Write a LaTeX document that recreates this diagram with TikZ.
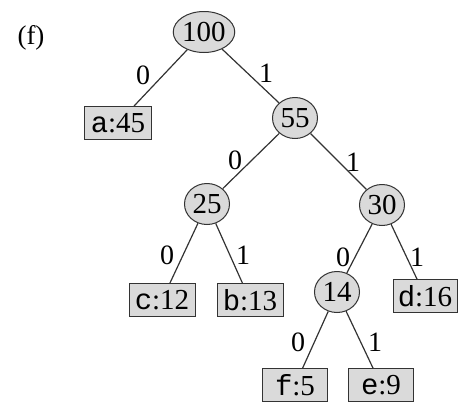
\documentclass[tikz,border=0pt]{standalone}
\usepackage{fontspec}
\setmainfont{Liberation Serif}
\setmonofont{Liberation Mono}
\usetikzlibrary{shapes.geometric}
\definecolor{nodefill}{HTML}{DADADA}
\definecolor{linecol}{HTML}{333333}
\begin{document}
\begin{tikzpicture}[x=1pt,y=-1pt,
  inner/.style={ellipse,draw=linecol,fill=nodefill,line width=1pt,inner sep=0pt,minimum width=45pt,minimum height=41pt,font=\fontsize{29}{30}\selectfont},
  leaf/.style={rectangle,draw=linecol,fill=nodefill,line width=1pt,inner sep=0pt,minimum width=66pt,minimum height=33pt,font=\fontsize{29}{30}\selectfont},
  edge/.style={draw=linecol,line width=1.2pt},
  elab/.style={font=\fontsize{28}{30}\selectfont,inner sep=0pt}]
\useasboundingbox (0,0) rectangle (459,405);
\node[font=\fontsize{27}{29}\selectfont] (lab) at (31,38) {(f)};
\node[inner] (n100) at (204,32) {100};
\node[inner] (n55) at (295,118) {55};
\node[inner] (n25) at (207,204) {25};
\node[inner] (n30) at (382,205) {30};
\node[inner] (n14) at (337,292) {14};
\node[leaf,minimum width=67pt] (a) at (118,123) {\texttt{a}:45};
\node[leaf] (c) at (162,300) {\texttt{c}:12};
\node[leaf] (b) at (250,300) {\texttt{b}:13};
\node[leaf,minimum width=64pt] (d) at (425,296) {\texttt{d}:16};
\node[leaf,minimum width=65pt] (f) at (295,385) {\texttt{f}:5};
\node[leaf,minimum width=65pt] (e) at (381,385) {\texttt{e}:9};
\draw[edge] (n100) -- (a);
\draw[edge] (n100) -- (n55);
\draw[edge] (n55) -- (n25);
\draw[edge] (n55) -- (n30);
\draw[edge] (n25) -- (c);
\draw[edge] (n25) -- (b);
\draw[edge] (n30) -- (n14);
\draw[edge] (n30) -- (d);
\draw[edge] (n14) -- (f);
\draw[edge] (n14) -- (e);
\node[elab] (l1) at (143,75) {0};
\node[elab] (l2) at (266,73) {1};
\node[elab] (l3) at (235,160) {0};
\node[elab] (l4) at (353,162) {1};
\node[elab] (l5) at (167,255) {0};
\node[elab] (l6) at (243,255) {1};
\node[elab] (l7) at (343,257) {0};
\node[elab] (l8) at (417,257) {1};
\node[elab] (l9) at (298,342) {0};
\node[elab] (l10) at (375,342) {1};
\end{tikzpicture}
\end{document}
